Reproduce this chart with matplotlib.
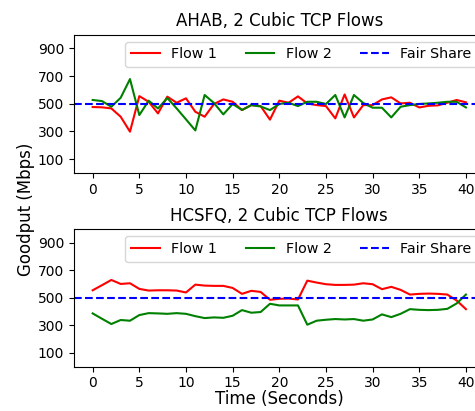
import numpy as np
import matplotlib
matplotlib.use('Agg')
import matplotlib.pyplot as plt


seconds = list(range(41))
fair_share = 500

ahab_flow1 = [476, 474, 466, 406, 298, 555, 514, 430, 551, 507,
              539, 442, 406, 498, 531, 514, 454, 490, 483, 385,
              522, 507, 553, 502, 490, 483, 394, 567, 401, 490,
              490, 531, 546, 502, 507, 473, 485, 488, 507, 527, 510]
ahab_flow2 = [527, 519, 478, 543, 678, 418, 522, 466, 541, 466,
              387, 307, 563, 505, 423, 498, 455, 490, 480, 454,
              498, 507, 483, 514, 514, 498, 563, 401, 563, 505,
              471, 471, 401, 478, 490, 498, 502, 507, 514, 514, 473]

hcsfq_flow1 = [555, 592, 630, 601, 606, 565, 553, 555, 555, 553,
               539, 596, 589, 587, 587, 572, 529, 551, 543, 486,
               493, 495, 488, 625, 611, 599, 594, 594, 596, 606,
               599, 563, 580, 558, 524, 529, 531, 529, 524, 481, 418]
hcsfq_flow2 = [387, 348, 310, 339, 334, 375, 389, 387, 384, 389,
               384, 367, 353, 358, 355, 370, 411, 392, 397, 457,
               445, 445, 445, 305, 334, 341, 346, 343, 346, 334,
               343, 380, 360, 384, 418, 413, 411, 413, 420, 459, 524]


def draw_panel(ax, title, flow1, flow2):
    ax.plot(seconds, flow1, 'r-', label='Flow 1')
    ax.plot(seconds, flow2, 'g-', label='Flow 2')
    ax.axhline(fair_share, color='b', linestyle='--', label='Fair Share')
    ax.set_title(title, fontsize=12)
    ax.set_xlim(-2, 42)
    ax.set_ylim(0, 1000)
    ax.set_yticks([100, 300, 500, 700, 900])
    ax.set_xticks(range(0, 41, 5))
    ax.tick_params(labelsize=10)
    ax.legend(loc='upper right', ncol=3, fontsize=10.3)


fig = plt.figure(figsize=(4.75, 4.11), dpi=100)
ax1 = fig.add_axes([0.1558, 0.5793, 0.8644, 0.3367])
ax2 = fig.add_axes([0.1558, 0.1078, 0.8644, 0.335])

draw_panel(ax1, 'AHAB, 2 Cubic TCP Flows', ahab_flow1, ahab_flow2)
draw_panel(ax2, 'HCSFQ, 2 Cubic TCP Flows', hcsfq_flow1, hcsfq_flow2)

ax2.set_xlabel('Time (Seconds)', fontsize=12, labelpad=0)
fig.text(0.055, 0.49, 'Goodput (Mbps)', rotation=90, va='center', ha='center', fontsize=12)

fig.savefig('out.png', dpi=100)
